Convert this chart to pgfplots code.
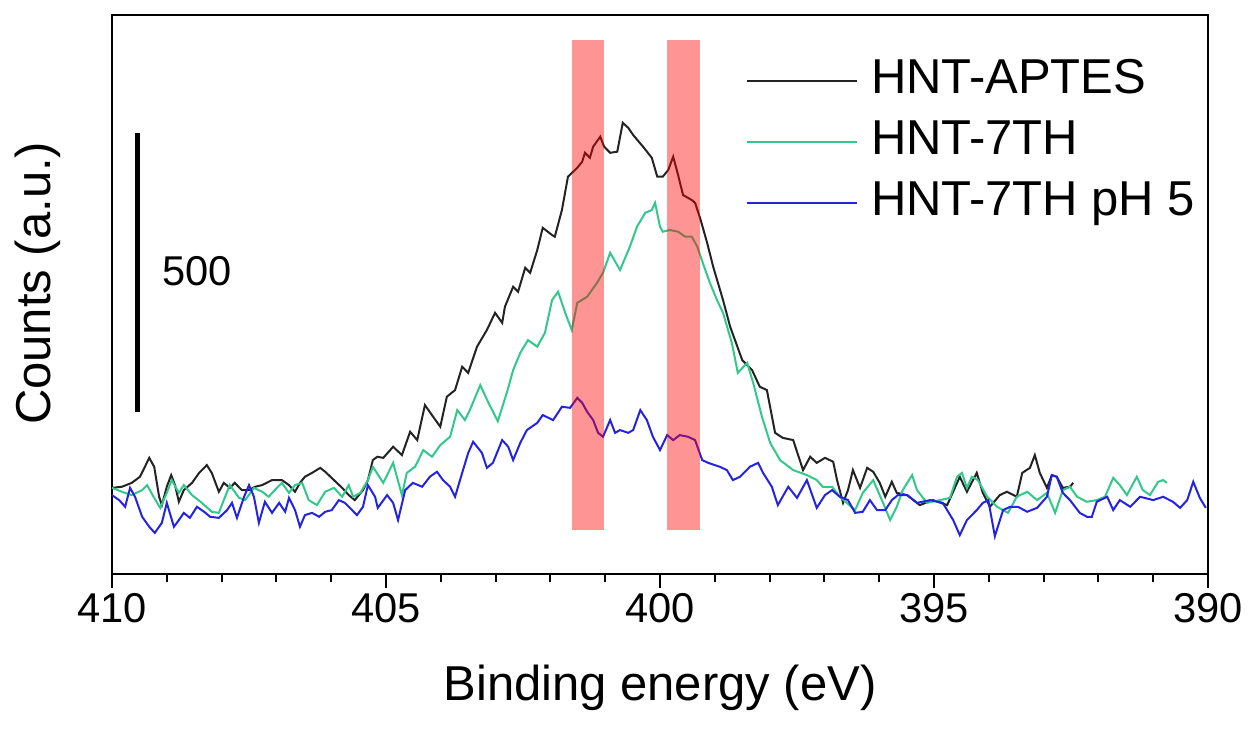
\documentclass[border=0pt]{standalone}
\usepackage{fontspec}
\setmainfont{Liberation Sans}
\usepackage{pgfplots}
\pgfplotsset{compat=1.18}
\definecolor{cBlack}{RGB}{35,35,35}
\definecolor{cGreen}{RGB}{50,200,140}
\definecolor{cBlue}{RGB}{35,35,225}

\begin{document}
\begin{tikzpicture}
\begin{axis}[
 scale only axis,width=328.8pt,height=167.7pt,
 xmin=390,xmax=410,x dir=reverse,
 ymin=0,ymax=1006,
 xtick={390,395,400,405,410},
 minor x tick num=4,
 ytick=\empty,
 xtick pos=left,
 tick align=outside,
 major tick length=4.2pt,minor tick length=2.4pt,
 major tick style={line width=0.75pt,black},
 minor tick style={line width=0.6pt,black},
 axis line style={line width=0.75pt},
 /pgf/number format/assume math mode=true,
 xticklabel style={font=\fontsize{12.5}{15}\selectfont,inner sep=0pt,anchor=north,yshift=-1.5pt},
 xlabel={Binding energy (eV)},
 ylabel={Counts (a.u.)},
 label style={font=\fontsize{14.7}{17}\selectfont},
 xlabel style={at={(axis description cs:0.5,-0.204)},anchor=center},
 ylabel style={at={(axis description cs:-0.0675,0.52)},anchor=center},
 legend style={draw=none,fill=none,inner sep=0pt,
   at={(axis description cs:0.5776,0.9267)},anchor=north west,
   font=\fontsize{14.7}{17}\selectfont,
   nodes={inner sep=0pt,text height=11pt,text depth=3.5pt},
   row sep=3.8pt,column sep=4pt},
 legend cell align=left,
 legend image code/.code={\draw[#1] (0pt,0pt) -- (33pt,0pt);},
 clip=false,
]
\path (axis description cs:-0.1022,-0.2844) rectangle (axis description cs:1.0392,1.0268);

\addplot[cBlack,line width=0.6pt] coordinates {
(410.00,155) (409.82,157) (409.64,164) (409.49,175) (409.32,209) (409.23,193) (409.14,139) (409.09,124) (409.00,157) (408.92,178) (408.85,160) (408.78,130) (408.69,151) (408.54,164) (408.41,182) (408.27,196) (408.18,182) (408.05,148) (407.96,164) (407.85,155) (407.76,164) (407.63,151) (407.50,151) (407.39,157) (407.26,160) (407.08,169) (406.90,169) (406.77,160) (406.66,148) (406.57,164) (406.48,175) (406.35,182) (406.20,191) (406.11,184) (405.95,169) (405.80,155) (405.68,142) (405.57,133) (405.42,151) (405.33,169) (405.24,205) (405.16,211) (405.05,209) (404.87,229) (404.71,214) (404.56,256) (404.43,241) (404.29,304) (404.14,283) (404.01,265) (403.89,319) (403.74,331) (403.61,373) (403.50,362) (403.34,409) (403.16,439) (403.01,470) (402.88,452) (402.83,481) (402.68,517) (402.59,508) (402.46,551) (402.37,542) (402.24,583) (402.14,623) (401.97,610) (401.92,607) (401.79,655) (401.68,715) (401.51,731) (401.42,742) (401.37,758) (401.28,749) (401.22,769) (401.09,787) (401.02,769) (400.91,758) (400.78,760) (400.68,812) (400.58,803) (400.49,790) (400.31,769) (400.15,749) (400.05,715) (399.95,715) (399.85,727) (399.76,751) (399.67,718) (399.58,682) (399.42,673) (399.36,668) (399.27,641) (399.14,596) (399.03,553) (398.85,493) (398.72,445) (398.50,385) (398.32,367) (398.18,337) (398.05,331) (397.90,254) (397.76,245) (397.57,241) (397.39,187) (397.26,211) (397.14,200) (396.99,209) (396.84,202) (396.77,169) (396.66,128) (396.57,151) (396.48,187) (396.35,155) (396.22,191) (396.11,184) (395.99,164) (395.89,139) (395.77,166) (395.68,146) (395.49,142) (395.26,124) (395.02,133) (394.76,124) (394.53,175) (394.40,148) (394.22,182) (394.11,146) (393.98,121) (393.80,142) (393.67,148) (393.49,139) (393.39,182) (393.25,191) (393.16,214) (393.07,182) (392.94,155) (392.85,178) (392.76,175) (392.65,155) (392.52,157) (392.46,164)
};
\addlegendentry{HNT-APTES}

\addplot[cGreen,line width=0.6pt] coordinates {
(410.00,155) (409.82,148) (409.64,142) (409.45,151) (409.36,160) (409.23,137) (409.12,119) (409.00,146) (408.91,169) (408.78,146) (408.69,160) (408.54,142) (408.36,128) (408.18,112) (408.05,110) (407.96,133) (407.85,160) (407.68,137) (407.57,133) (407.41,155) (407.26,148) (407.14,139) (407.03,151) (406.90,164) (406.77,146) (406.66,160) (406.53,164) (406.41,133) (406.26,124) (406.11,148) (405.95,155) (405.80,139) (405.68,160) (405.60,139) (405.47,146) (405.33,169) (405.24,193) (405.05,164) (404.87,200) (404.71,142) (404.62,182) (404.47,193) (404.32,223) (404.16,211) (404.01,232) (403.83,247) (403.70,295) (403.56,277) (403.47,295) (403.28,340) (403.14,310) (402.96,275) (402.79,328) (402.68,367) (402.55,398) (402.41,421) (402.24,409) (402.10,434) (401.97,493) (401.86,508) (401.73,470) (401.61,439) (401.51,488) (401.33,499) (401.15,524) (401.04,542) (400.91,578) (400.73,547) (400.55,589) (400.42,625) (400.27,650) (400.15,655) (400.09,668) (400.00,625) (399.95,616) (399.82,619) (399.67,616) (399.54,607) (399.42,607) (399.32,589) (399.22,560) (399.09,524) (398.96,493) (398.85,470) (398.69,416) (398.58,362) (398.41,380) (398.30,344) (398.14,283) (397.99,236) (397.81,205) (397.57,187) (397.32,178) (397.14,169) (397.03,157) (396.86,157) (396.72,139) (396.59,128) (396.44,115) (396.30,146) (396.11,169) (395.93,128) (395.80,97) (395.68,121) (395.57,151) (395.40,178) (395.31,151) (395.13,128) (394.89,133) (394.71,137) (394.58,175) (394.49,182) (394.40,155) (394.31,175) (394.20,169) (394.03,139) (393.85,121) (393.65,110) (393.49,139) (393.30,148) (393.12,133) (392.94,146) (392.79,110) (392.65,151) (392.52,157) (392.39,139) (392.21,130) (392.03,133) (391.88,139) (391.73,173) (391.61,160) (391.48,142) (391.30,175) (391.19,151) (391.06,142) (390.91,166) (390.82,169) (390.75,164)
};
\addlegendentry{HNT-7TH}

\addplot[cBlue,line width=0.6pt] coordinates {
(410.00,142) (409.87,133) (409.76,121) (409.67,155) (409.58,139) (409.45,103) (409.32,85) (409.22,74) (409.09,92) (409.00,128) (408.87,85) (408.78,97) (408.69,110) (408.58,101) (408.45,121) (408.32,112) (408.21,103) (408.05,101) (407.90,115) (407.81,128) (407.72,101) (407.59,139) (407.50,160) (407.41,139) (407.32,92) (407.21,130) (407.08,110) (406.95,128) (406.84,112) (406.77,137) (406.66,115) (406.57,85) (406.48,106) (406.35,110) (406.22,103) (406.11,112) (405.99,115) (405.86,133) (405.75,128) (405.62,115) (405.53,106) (405.42,121) (405.33,160) (405.20,139) (405.15,119) (404.98,142) (404.87,128) (404.78,97) (404.65,151) (404.51,164) (404.34,157) (404.20,175) (404.07,184) (403.96,169) (403.83,157) (403.74,139) (403.61,182) (403.50,218) (403.41,238) (403.25,218) (403.16,191) (403.05,200) (402.88,241) (402.77,229) (402.68,205) (402.55,236) (402.43,259) (402.24,272) (402.14,286) (401.95,277) (401.79,301) (401.64,299) (401.51,317) (401.42,308) (401.33,292) (401.22,277) (401.13,254) (401.04,247) (400.91,277) (400.82,254) (400.73,259) (400.58,254) (400.49,259) (400.36,295) (400.24,277) (400.13,247) (400.00,223) (399.87,250) (399.76,241) (399.64,250) (399.49,247) (399.36,241) (399.23,205) (399.12,200) (398.91,193) (398.78,187) (398.67,169) (398.54,175) (398.36,193) (398.21,200) (398.12,182) (397.96,157) (397.85,124) (397.66,157) (397.50,137) (397.32,169) (397.14,119) (396.99,142) (396.86,151) (396.72,139) (396.57,133) (396.44,110) (396.30,112) (396.17,133) (396.04,115) (395.89,115) (395.77,133) (395.66,142) (395.49,142) (395.31,128) (395.07,133) (394.84,128) (394.65,97) (394.53,70) (394.40,97) (394.22,115) (394.11,128) (394.01,133) (393.89,68) (393.74,115) (393.61,121) (393.47,121) (393.30,112) (393.12,119) (392.94,139) (392.85,178) (392.76,175) (392.65,146) (392.52,133) (392.34,110) (392.21,103) (392.12,103) (392.03,130) (391.84,139) (391.73,115) (391.61,133) (391.42,121) (391.24,139) (391.00,133) (390.82,139) (390.64,130) (390.51,119) (390.38,133) (390.27,166) (390.15,137) (390.04,119)
};
\addlegendentry{HNT-7TH pH 5}

% highlighted regions
\fill[red,fill opacity=0.42] (axis cs:401.60,79) rectangle (axis cs:401.02,961);
\fill[red,fill opacity=0.42] (axis cs:399.87,79) rectangle (axis cs:399.27,961);

% scale bar
\draw[line width=1.5pt,black] (axis cs:409.54,292) -- (axis cs:409.54,794);
\node[anchor=west,inner sep=0pt,font=\fontsize{12.5}{15}\selectfont] at (axis cs:409.09,545) {500};
\end{axis}
\end{tikzpicture}
\end{document}
